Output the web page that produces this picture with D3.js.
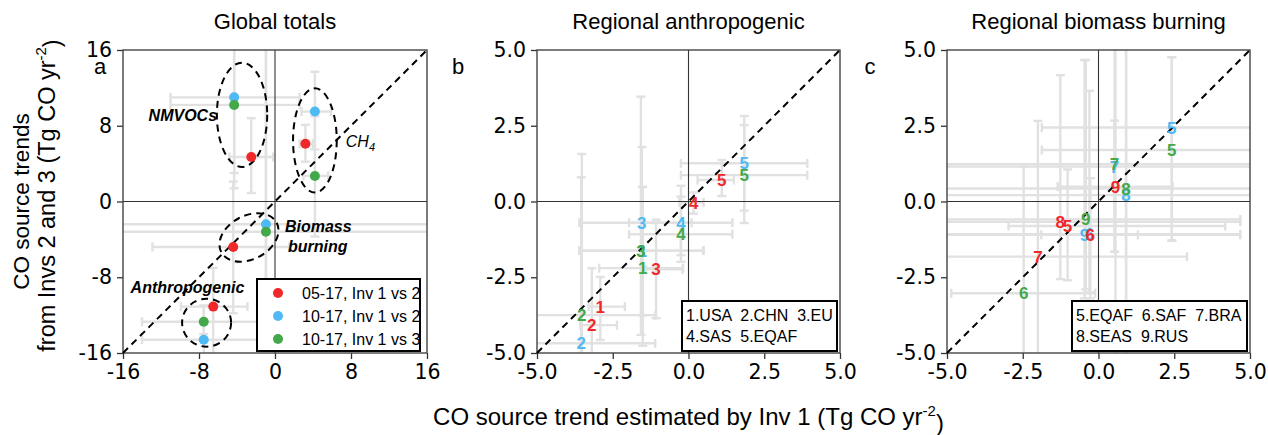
<!DOCTYPE html>
<html><head><meta charset="utf-8">
<script src="https://cdn.jsdelivr.net/npm/d3@7"></script>
<style>
body{margin:0;background:#fff}
svg{display:block}
text{font-family:"Liberation Sans",Arial,Helvetica,sans-serif;fill:#000}
</style>
</head><body>
<svg id="chart" width="1268" height="435"></svg>
<script>
// ---------------- DATA ----------------
const seriesNames = ["05-17, Inv 1 vs 2", "10-17, Inv 1 vs 2", "10-17, Inv 1 vs 3"];
const seriesColors = ["#f0282a", "#4fb9f3", "#43a849"];

// Panel a: global totals, [category][series]
const globalCategories = ["NMVOCs", "CH4", "Biomass burning", "Anthropogenic"];
const globalX = [[-2.5, -4.3, -4.3], [3.2, 4.2, 4.2], [-4.4, -0.95, -0.95], [-6.5, -7.5, -7.5]];
const globalY = [[4.7, 11.0, 10.2], [6.1, 9.5, 2.7], [-4.8, -2.4, -3.2], [-11.1, -14.6, -12.7]];
const globalXErr = [
  [[-4.8, -0.2], [-11.0, 2.6], [-11.0, 2.6]],
  [[2.6, 4.0], [2.8, 5.9], [3.0, 5.6]],
  [[-12.9, 1.5], [-20, 20], [-20, 20]],
  [[-9.9, -2.9], [-14.0, 3.0], [-14.0, 3.0]]
];
const globalYErr = [
  [[0.9, 8.8], [3.0, 20], [1.4, 20]],
  [[4.2, 8.1], [5.5, 13.7], [-3.7, 9.0]],
  [[-11.8, 2.1], [-14.5, 20], [-14.5, 20]],
  [[-18, -7.0], [-18, -11.0], [-14.0, -11.0]]
];
// ellipse annotations: [cx, cy, rx, ry, angle] in data units
const globalEllipses = [[-3.47, 9.15, 2.65, 5.5, 0], [4.2, 6.45, 2.3, 5.5, 0], [-2.74, -3.8, 3.3, 2.3, -28], [-7.2, -12.8, 2.58, 2.53, 0]];
const globalLabels = [
  {text: "NMVOCs", x: -6.1, y: 9.05, anchor: "end"},
  {text: "CH", sub: "4", x: 7.45, y: 6.3, anchor: "start"},
  {text: "Biomass", x: 1.05, y: -2.66, anchor: "start"},
  {text: "burning", x: 1.37, y: -4.75, anchor: "start"},
  {text: "Anthropogenic", x: -15.2, y: -9.06, anchor: "start"}
];

// Panel b: regional anthropogenic, [region][series]
const anthroRegions = ["1", "2", "3", "4", "5"];
const anthroX = [[-2.91, -1.52, -1.51], [-3.19, -3.54, -3.52], [-1.07, -1.54, -1.57], [0.17, -0.25, -0.25], [1.1, 1.84, 1.84]];
const anthroY = [[-3.47, -1.62, -2.2], [-4.08, -4.68, -3.75], [-2.24, -0.7, -1.62], [-0.03, -0.7, -1.08], [0.71, 1.26, 0.87]];
const anthroXErr = [
  [[-3.3, -2.1], [-3.6, 0.5], [-2.95, -0.18]],
  [[-3.57, -2.36], [-5.5, -1.1], [-5.5, -1.1]],
  [[-1.4, -0.2], [-3.6, 0.1], [-3.6, 0.48]],
  [[-0.3, 0.5], [-1.96, 1.45], [-1.96, 1.45]],
  [[0.3, 1.5], [-0.25, 3.92], [-0.25, 3.92]]
];
const anthroYErr = [
  [[-4.57, -2.49], [-3.75, 0.48], [-4.76, 0.48]],
  [[-5.5, -2.2], [-6.0, 0.8], [-6.0, 1.57]],
  [[-3.85, -0.6], [-3.75, 1.8], [-4.4, 3.46]],
  [[-0.4, 0.3], [-1.99, 0.52], [-1.77, 0.16]],
  [[0.18, 1.37], [-0.71, 2.82], [-0.3, 2.52]]
];
const anthroLegend = ["1.USA  2.CHN  3.EU", "4.SAS  5.EQAF"];

// Panel c: regional biomass burning, [region][series]
const bbRegions = ["5", "6", "7", "8", "9"];
const bbX = [[-1.02, 2.42, 2.42], [-0.27, -0.3, -2.47], [-2.0, 0.53, 0.53], [-1.26, 0.91, 0.91], [0.56, -0.46, -0.42]];
const bbY = [[-0.81, 2.44, 1.7], [-1.1, -1.08, -3.03], [-1.82, 1.15, 1.23], [-0.67, 0.21, 0.43], [0.49, -1.1, -0.59]];
const bbXErr = [
  [[-2.97, 4.18], [-1.87, 6], [-1.87, 6]],
  [[-1.89, 1.3], [-6, 4.68], [-4.86, -0.11]],
  [[-6, 2.92], [-6, 6], [-6, 6]],
  [[-6, 4.68], [-6, 6], [-6, 6]],
  [[-1.35, 2.45], [-6, 4.68], [-6, 4.68]]
];
const bbYErr = [
  [[-2.6, 1.06], [-1.29, 4.76], [-1.29, 4.76]],
  [[-3.2, 0.77], [-3.0, 3.65], [-6, 1.15]],
  [[-6, 2.66], [-1.66, 6], [-1.66, 2.67]],
  [[-2.56, 4.17], [-6, 6], [-6, 6]],
  [[-6, 6], [-3.2, 4.67], [-2.9, 4.67]]
];
const bbLegend = ["5.EQAF  6.SAF  7.BRA", "8.SEAS  9.RUS"];

const panelTitles = ["Global totals", "Regional anthropogenic", "Regional biomass burning"];
const panelLetters = ["a", "b", "c"];
const ticksA = [-16, -8, 0, 8, 16];
const tickLabelsA = ["-16", "-8", "0", "8", "16"];
const ticksBC = [-5, -2.5, 0, 2.5, 5];
const tickLabelsBC = ["-5.0", "-2.5", "0.0", "2.5", "5.0"];
const xAxisTitle = "CO source trend estimated by Inv 1 (Tg CO yr";
const yAxisTitle1 = "CO source trends";
const yAxisTitle2 = "from Invs 2 and 3 (Tg CO yr";

// ---------------- LAYOUT ----------------
const svg = d3.select("#chart");
const plotTop = 50, plotBottom = 353;
const panels = [
  {left: 123, right: 427, dom: [-16, 16], ticks: ticksA, labels: tickLabelsA, letterX: 100},
  {left: 537, right: 840, dom: [-5, 5], ticks: ticksBC, labels: tickLabelsBC, letterX: 458},
  {left: 947, right: 1250, dom: [-5, 5], ticks: ticksBC, labels: tickLabelsBC, letterX: 870}
];
const ERR_COLOR = "#e1e1e1";
const TICK_FS = 20.5;
const drawOrder = [1, 0, 2]; // blue below, red, green on top

function flatten(X, Y, XE, YE, names) {
  const out = [];
  drawOrder.forEach(s => {
    X.forEach((row, i) => {
      out.push({x: row[s], y: Y[i][s], xe: XE[i][s], ye: YE[i][s], s: s, name: names[i]});
    });
  });
  return out;
}

panels.forEach((p, pi) => {
  const x = d3.scaleLinear().domain(p.dom).range([p.left, p.right]);
  const y = d3.scaleLinear().domain(p.dom).range([plotBottom, plotTop]);
  const g = svg.append("g");
  const clipId = "clip" + pi;
  svg.append("clipPath").attr("id", clipId).append("rect")
    .attr("x", p.left).attr("y", plotTop).attr("width", p.right - p.left).attr("height", plotBottom - plotTop);

  // axes
  const fmtMap = new Map(p.ticks.map((t, i) => [t, p.labels[i]]));
  const ax = g.append("g").attr("transform", `translate(0,${plotBottom})`)
    .call(d3.axisBottom(x).tickValues(p.ticks).tickSize(6).tickPadding(5).tickFormat(d => fmtMap.get(d)));
  const ay = g.append("g").attr("transform", `translate(${p.left},0)`)
    .call(d3.axisLeft(y).tickValues(p.ticks).tickSize(6).tickPadding(5).tickFormat(d => fmtMap.get(d)));
  [ax, ay].forEach(a => {
    a.select(".domain").remove();
    a.selectAll("line").attr("stroke", "#333").attr("stroke-width", 1.3);
    a.selectAll("text").attr("font-size", TICK_FS).attr("fill", "#000")
      .style("font-family", '"DejaVu Sans",sans-serif');
  });

  // data
  let pts;
  if (pi === 0) pts = flatten(globalX, globalY, globalXErr, globalYErr, globalCategories);
  else if (pi === 1) pts = flatten(anthroX, anthroY, anthroXErr, anthroYErr, anthroRegions);
  else pts = flatten(bbX, bbY, bbXErr, bbYErr, bbRegions);

  // error bars
  const eg = g.append("g").attr("clip-path", `url(#${clipId})`)
    .attr("stroke", ERR_COLOR).attr("stroke-width", 2.4).attr("fill", "none");
  const cap = 4.5;
  pts.forEach(d => {
    const px = x(d.x), py = y(d.y);
    const x0 = x(d.xe[0]), x1 = x(d.xe[1]);
    const y0 = y(d.ye[0]), y1 = y(d.ye[1]);
    eg.append("line").attr("x1", x0).attr("x2", x1).attr("y1", py).attr("y2", py);
    eg.append("line").attr("x1", x0).attr("x2", x0).attr("y1", py - cap).attr("y2", py + cap);
    eg.append("line").attr("x1", x1).attr("x2", x1).attr("y1", py - cap).attr("y2", py + cap);
    eg.append("line").attr("x1", px).attr("x2", px).attr("y1", y0).attr("y2", y1);
    eg.append("line").attr("x1", px - cap).attr("x2", px + cap).attr("y1", y0).attr("y2", y0);
    eg.append("line").attr("x1", px - cap).attr("x2", px + cap).attr("y1", y1).attr("y2", y1);
  });

  // zero lines
  g.append("line").attr("x1", x(0)).attr("x2", x(0)).attr("y1", plotTop).attr("y2", plotBottom)
    .attr("stroke", "#333").attr("stroke-width", 1.1);
  g.append("line").attr("x1", p.left).attr("x2", p.right).attr("y1", y(0)).attr("y2", y(0))
    .attr("stroke", "#333").attr("stroke-width", 1.1);

  // frame
  g.append("rect").attr("x", p.left).attr("y", plotTop).attr("width", p.right - p.left).attr("height", plotBottom - plotTop)
    .attr("fill", "none").attr("stroke", "#444").attr("stroke-width", 1.4);

  // 1:1 line
  g.append("line").attr("x1", x(p.dom[0])).attr("y1", y(p.dom[0])).attr("x2", x(p.dom[1])).attr("y2", y(p.dom[1]))
    .attr("stroke", "#000").attr("stroke-width", 2).attr("stroke-dasharray", "7,5");

  if (pi === 0) {
    globalEllipses.forEach(e => {
      const cx = x(e[0]), cy = y(e[1]);
      const rx = x(e[2]) - x(0), ry = y(0) - y(e[3]);
      g.append("ellipse").attr("cx", cx).attr("cy", cy).attr("rx", rx).attr("ry", ry)
        .attr("transform", `rotate(${e[4]},${cx},${cy})`)
        .attr("fill", "none").attr("stroke", "#000").attr("stroke-width", 2).attr("stroke-dasharray", "7,5");
    });
    globalLabels.forEach(l => {
      const t = g.append("text").attr("x", x(l.x)).attr("y", y(l.y)).attr("dy", "0.35em")
        .attr("text-anchor", l.anchor).attr("font-size", 16).attr("font-style", "italic")
        .attr("font-weight", l.sub ? "normal" : "bold").text(l.text);
      if (l.sub) t.append("tspan").attr("font-size", 11).attr("dy", "0.3em").text(l.sub);
    });
    g.append("g").selectAll("circle").data(pts).join("circle")
      .attr("cx", d => x(d.x)).attr("cy", d => y(d.y)).attr("r", 5)
      .attr("fill", d => seriesColors[d.s]);
    const lw = 163, lh = 72;
    const lx = p.right - 7 - lw, ly = plotBottom - 2 - lh;
    const lg = g.append("g");
    lg.append("rect").attr("x", lx).attr("y", ly).attr("width", lw).attr("height", lh)
      .attr("fill", "#fff").attr("stroke", "#000").attr("stroke-width", 2);
    seriesNames.forEach((n, i) => {
      const yy = ly + 14 + i * 23;
      lg.append("circle").attr("cx", lx + 21).attr("cy", yy).attr("r", 5).attr("fill", seriesColors[i]);
      lg.append("text").attr("x", lx + 45).attr("y", yy).attr("dy", "0.35em").attr("font-size", 16).text(n);
    });
  } else {
    g.append("g").selectAll("text").data(pts).join("text")
      .attr("x", d => x(d.x)).attr("y", d => y(d.y)).attr("dy", "0.36em")
      .attr("text-anchor", "middle").attr("font-size", 17).attr("font-weight", "bold")
      .style("fill", d => seriesColors[d.s]).text(d => d.name);
    const leg = pi === 1 ? anthroLegend : bbLegend;
    const lw = pi === 1 ? 155 : 175, lh = 50;
    const lx = p.right - 3 - lw, ly = plotBottom - 2 - lh;
    g.append("rect").attr("x", lx).attr("y", ly).attr("width", lw).attr("height", lh)
      .attr("fill", "#fff").attr("stroke", "#000").attr("stroke-width", 2);
    leg.forEach((s, i) => {
      g.append("text").attr("x", lx + 4).attr("y", ly + 14 + i * 21).attr("dy", "0.35em")
        .attr("font-size", 16).attr("xml:space", "preserve").style("white-space", "pre").text(s);
    });
  }

  svg.append("text").attr("x", (p.left + p.right) / 2).attr("y", 21).attr("dy", "0.35em")
    .attr("text-anchor", "middle").attr("font-size", 22).text(panelTitles[pi]);
  svg.append("text").attr("x", p.letterX).attr("y", 66).attr("dy", "0.35em")
    .attr("text-anchor", "middle").attr("font-size", 22).text(panelLetters[pi]);
});

const xt = svg.append("text").attr("x", (panels[1].left + panels[1].right) / 2).attr("y", 417).attr("dy", "0.35em")
  .attr("text-anchor", "middle").attr("font-size", 24).text(xAxisTitle);
xt.append("tspan").attr("font-size", 15).attr("dy", "-0.6em").text("-2");
xt.append("tspan").attr("dy", "0.6em").text(")");

const midY = (plotTop + plotBottom) / 2;
svg.append("text").attr("transform", `translate(21,${midY}) rotate(-90)`).attr("dy", "0.35em")
  .attr("text-anchor", "middle").attr("font-size", 22.5).text(yAxisTitle1);
const yt = svg.append("text").attr("transform", `translate(47,${midY - 6}) rotate(-90)`).attr("dy", "0.35em")
  .attr("text-anchor", "middle").attr("font-size", 23.5).text(yAxisTitle2);
yt.append("tspan").attr("font-size", 15).attr("dy", "-0.6em").text("-2");
yt.append("tspan").attr("dy", "0.6em").text(")");
</script>
</body></html>
